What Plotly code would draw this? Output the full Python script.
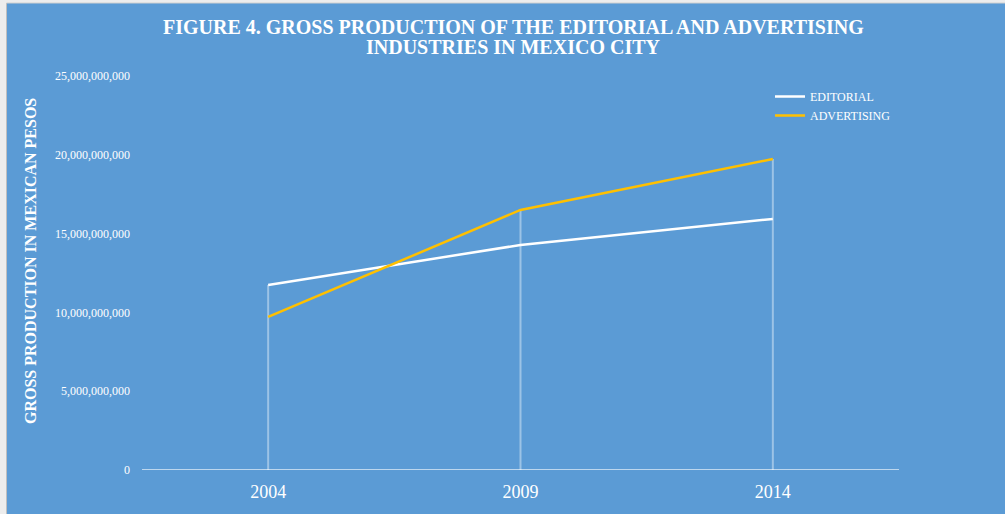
import plotly.graph_objects as go

years = ["2004", "2009", "2014"]
editorial = [11.74e9, 14.28e9, 15.93e9]
advertising = [9.71e9, 16.5e9, 19.73e9]
y_ticks = [0, 5e9, 10e9, 15e9, 20e9, 25e9]
y_tick_labels = ["0", "5,000,000,000", "10,000,000,000", "15,000,000,000", "20,000,000,000", "25,000,000,000"]
title_lines = ["FIGURE 4. GROSS PRODUCTION OF THE EDITORIAL AND ADVERTISING",
               "INDUSTRIES IN MEXICO CITY"]

W, H = 1005, 514
L, R, T, B = 142, 899, 76, 470

def px(x):
    return (x - L) / (R - L)

def py(y):
    return (B - y) / (B - T)

fig = go.Figure()

# drop lines from the higher series to the axis
drop_x, drop_y = [], []
for i, yr in enumerate(years):
    drop_x += [yr, yr, None]
    drop_y += [0, max(editorial[i], advertising[i]), None]
fig.add_trace(go.Scatter(x=drop_x, y=drop_y, mode="lines",
                         line=dict(color="rgba(255,255,255,0.4)", width=2),
                         showlegend=False, hoverinfo="skip"))

fig.add_trace(go.Scatter(x=years, y=editorial, mode="lines", name="EDITORIAL",
                         line=dict(color="#FFFFFF", width=2.5)))
fig.add_trace(go.Scatter(x=years, y=advertising, mode="lines", name="ADVERTISING",
                         line=dict(color="#FFC000", width=2.5)))

serif = "Liberation Serif, Times New Roman, serif"

fig.update_layout(
    width=W, height=H,
    paper_bgcolor="#EDEDED",
    plot_bgcolor="rgba(0,0,0,0)",
    margin=dict(l=L, r=W - R, t=T, b=H - B, pad=0),
    font=dict(family=serif, color="#FFFFFF"),
    xaxis=dict(type="category", range=[-0.5, 2.5], showgrid=False, zeroline=False,
               showline=False, ticks="", tickfont=dict(size=18, color="#FFFFFF"),
               ticklabelstandoff=9),
    yaxis=dict(range=[0, 25e9], tickvals=y_ticks, ticktext=y_tick_labels,
               showgrid=False, zeroline=False, showline=False, ticks="",
               tickfont=dict(size=12, color="#FFFFFF"), ticklabelstandoff=11),
    legend=dict(x=px(770), y=py(82), xanchor="left", yanchor="top",
                bgcolor="rgba(0,0,0,0)", font=dict(size=12, color="#FFFFFF"),
                itemwidth=30, tracegroupgap=0),
    showlegend=True,
)

# blue chart background with grey frame at left/top
fig.add_shape(type="rect", xref="paper", yref="paper",
              x0=px(7), x1=px(W + 5), y0=py(H + 5), y1=py(3),
              fillcolor="#5B9BD5", line=dict(width=0), layer="below")
fig.add_shape(type="line", xref="paper", yref="paper",
              x0=px(6.5), x1=px(6.5), y0=py(H + 5), y1=py(3),
              line=dict(color="#BFBFBF", width=1), layer="below")
fig.add_shape(type="line", xref="paper", yref="paper",
              x0=px(6.5), x1=px(W + 5), y0=py(3), y1=py(3),
              line=dict(color="#D0D0D0", width=1), layer="below")
# x-axis baseline
fig.add_shape(type="line", xref="paper", yref="y",
              x0=0, x1=1, y0=0, y1=0,
              line=dict(color="rgba(255,255,255,0.6)", width=2), layer="below")

# title lines
for line_text, ypix in zip(title_lines, [27, 47]):
    fig.add_annotation(text="<b>" + line_text + "</b>", xref="paper", yref="paper",
                       x=px(513), y=py(ypix), xanchor="center", yanchor="middle",
                       showarrow=False, font=dict(family=serif, size=20, color="#FFFFFF"))

fig.add_annotation(text="<b>GROSS PRODUCTION IN MEXICAN PESOS</b>", textangle=-90,
                   xref="paper", yref="paper", x=px(30), y=py(261),
                   xanchor="center", yanchor="middle", showarrow=False,
                   font=dict(family=serif, size=16, color="#FFFFFF"))

fig.write_html("out.html")
